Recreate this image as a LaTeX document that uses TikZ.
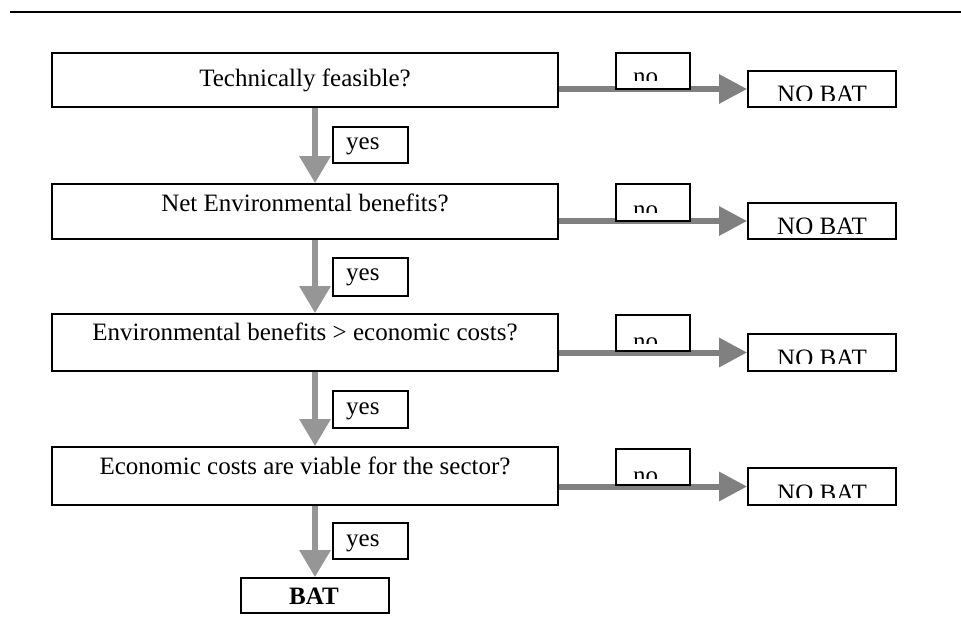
\documentclass[tikz,border=0pt]{standalone}
\usepackage{fontspec}
\setmainfont{Liberation Serif}
\usetikzlibrary{arrows.meta}
\definecolor{hgray}{HTML}{808080}
\definecolor{vgray}{HTML}{969696}
\newcommand{\fsz}{\fontsize{25}{30}\selectfont}
\tikzset{
  mainbox/.style={draw, line width=1.8pt, fill=white, minimum width=506pt, inner sep=0pt},
  lblbox/.style={draw, line width=1.8pt, fill=white, inner sep=0pt},
  txt/.style={inner sep=0pt, anchor=base, font=\fsz},
  ltxt/.style={inner sep=0pt, anchor=base west, font=\fsz},
  harrow/.style={line width=6pt, draw=hgray, -{Triangle[length=28pt,width=28pt,fill=hgray]}},
  varrow/.style={line width=6pt, draw=vgray, -{Triangle[length=27pt,width=30pt,fill=vgray]}},
}
\begin{document}
\begin{tikzpicture}[x=1pt,y=-1pt]
\useasboundingbox (0,0) rectangle (961,620);
% top rule
\coordinate (ruleL) at (10,12);
\coordinate (ruleR) at (961,12);
\draw[line width=2pt] (ruleL) -- (ruleR);

% position nodes (boxes drawn later, on top of the arrows)
\path
  (305,80)    node[mainbox, minimum height=54pt, draw=none, fill=none] (q1) {}
  (305,211.5) node[mainbox, minimum height=55pt, draw=none, fill=none] (q2) {}
  (305,342.5) node[mainbox, minimum height=57pt, draw=none, fill=none] (q3) {}
  (305,476)   node[mainbox, minimum height=58pt, draw=none, fill=none] (q4) {}
  (822,89)    node[lblbox, minimum width=148pt, minimum height=36pt, draw=none, fill=none] (b1) {}
  (822,221)   node[lblbox, minimum width=148pt, minimum height=36pt, draw=none, fill=none] (b2) {}
  (822,352.5) node[lblbox, minimum width=148pt, minimum height=37pt, draw=none, fill=none] (b3) {}
  (822,486.5) node[lblbox, minimum width=148pt, minimum height=37pt, draw=none, fill=none] (b4) {}
  (315,595.5) node[lblbox, minimum width=148pt, minimum height=35pt, draw=none, fill=none] (bat) {};

% arrows
\draw[harrow] (q1.east |- b1.west) -- (b1.west);
\draw[harrow] (q2.east |- b2.west) -- (b2.west);
\draw[harrow] (q3.east |- b3.west) -- (b3.west);
\draw[harrow] (q4.east |- b4.west) -- (b4.west);
\draw[varrow] (q1.south -| bat.center) -- (q2.north -| bat.center);
\draw[varrow] (q2.south -| bat.center) -- (q3.north -| bat.center);
\draw[varrow] (q3.south -| bat.center) -- (q4.north -| bat.center);
\draw[varrow] (q4.south -| bat.center) -- (bat.north);

% main boxes
\node[mainbox, minimum height=54pt] at (q1) {};
\node[mainbox, minimum height=55pt] at (q2) {};
\node[mainbox, minimum height=57pt] at (q3) {};
\node[mainbox, minimum height=58pt] at (q4) {};
\node[txt] (t1) at (305,86.5) {Technically feasible?};
\node[txt] (t2) at (305,211.5) {Net Environmental benefits?};
\node[txt] (t3) at (305,340.5) {Environmental benefits > economic costs?};
\node[txt] (t4) at (305,474.5) {Economic costs are viable for the sector?};

% no boxes
\node[lblbox, minimum width=74pt, minimum height=36pt] (n1) at (653,71) {};
\node[lblbox, minimum width=74pt, minimum height=37pt] (n2) at (653,202.5) {};
\node[lblbox, minimum width=74pt, minimum height=36pt] (n3) at (653,333) {};
\node[lblbox, minimum width=74pt, minimum height=36pt] (n4) at (653,467) {};
\begin{scope}\clip (616,53) rectangle (690,80.7);
\node[ltxt] (nt1) at (633,84.5) {no};\end{scope}
\begin{scope}\clip (616,184) rectangle (690,212.3);
\node[ltxt] (nt2) at (633,217.9) {no};\end{scope}
\begin{scope}\clip (616,315) rectangle (690,343.3);
\node[ltxt] (nt3) at (633,349) {no};\end{scope}
\begin{scope}\clip (616,449) rectangle (690,478.3);
\node[ltxt] (nt4) at (633,483) {no};\end{scope}

% NO BAT boxes
\node[lblbox, minimum width=148pt, minimum height=36pt] at (b1) {};
\node[lblbox, minimum width=148pt, minimum height=36pt] at (b2) {};
\node[lblbox, minimum width=148pt, minimum height=37pt] at (b3) {};
\node[lblbox, minimum width=148pt, minimum height=37pt] at (b4) {};
\begin{scope}\clip (748,71) rectangle (896,100.7);
\node[txt] (bt1) at (822,102.5) {NO BAT};\end{scope}
\begin{scope}\clip (748,203) rectangle (896,233.3);
\node[txt] (bt2) at (822,234.8) {NO BAT};\end{scope}
\begin{scope}\clip (748,334) rectangle (896,363);
\node[txt] (bt3) at (822,366.5) {NO BAT};\end{scope}
\begin{scope}\clip (748,468) rectangle (896,497.3);
\node[txt] (bt4) at (822,501) {NO BAT};\end{scope}

% yes boxes
\node[lblbox, minimum width=75pt, minimum height=36pt] (y1) at (370.5,145) {};
\node[lblbox, minimum width=75pt, minimum height=38pt] (y2) at (370.5,277) {};
\node[lblbox, minimum width=75pt, minimum height=37pt] (y3) at (370.5,409.5) {};
\node[lblbox, minimum width=75pt, minimum height=36pt] (y4) at (370.5,541) {};
\node[ltxt] (yt1) at (346,150) {yes};
\node[ltxt] (yt2) at (346,281) {yes};
\node[ltxt] (yt3) at (346,414) {yes};
\node[ltxt] (yt4) at (346,546) {yes};

% BAT
\node[lblbox, minimum width=148pt, minimum height=35pt] at (bat) {};
\node[txt, font=\fsz\bfseries] (batt) at (314,604) {BAT};
\end{tikzpicture}
\end{document}
